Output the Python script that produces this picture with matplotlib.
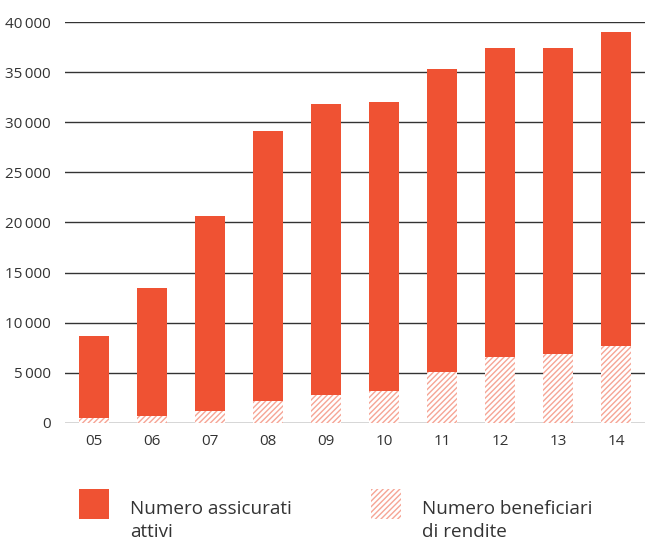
import matplotlib
matplotlib.use("Agg")
import matplotlib.pyplot as plt
from matplotlib.patches import Rectangle

plt.rcParams['font.family'] = ['Open Sans', 'DejaVu Sans']
plt.rcParams['hatch.linewidth'] = 1.0

years = ['05', '06', '07', '08', '09', '10', '11', '12', '13', '14']
totale = [8650, 13450, 20650, 29150, 31850, 32050, 35350, 37450, 37450, 39050]
beneficiari = [500, 700, 1200, 2200, 2750, 3200, 5100, 6600, 6900, 7700]
yticks = [0, 5000, 10000, 15000, 20000, 25000, 30000, 35000, 40000]

RED = '#ef5233'
HATCH = '#f6a595'
TXT = '#333333'

fig = plt.figure(figsize=(6.47, 5.44), dpi=100)
ax = fig.add_axes([65 / 647, 1 - 423 / 544, 580 / 647, 401 / 544])

x = list(range(len(years)))
assicurati = [t - b for t, b in zip(totale, beneficiari)]
ax.bar(x, beneficiari, width=0.52, color='white', edgecolor=HATCH, hatch='//////', linewidth=0, zorder=3)
ax.bar(x, assicurati, bottom=beneficiari, width=0.52, color=RED, linewidth=0, zorder=3)

ax.set_xlim(-0.5, 9.5)
ax.set_ylim(0, 40000)
ax.set_yticks(yticks)
ax.set_yticklabels([f"{v:,}".replace(',', '\u2009') for v in yticks], color=TXT, fontsize=11)
ax.set_xticks(x)
ax.set_xticklabels(years, color=TXT, fontsize=11)
ax.tick_params(length=0, pad=8)
ax.tick_params(axis='y', pad=10)
for s in ax.spines.values():
    s.set_visible(False)
ax.grid(axis='y', color='#333333', linewidth=1.0, zorder=0)
ax.set_axisbelow(True)

# legenda
fig.patches.append(Rectangle((79 / 647, 1 - 519 / 544), 30 / 647, 30 / 544,
                             transform=fig.transFigure, facecolor=RED, linewidth=0))
fig.patches.append(Rectangle((371 / 647, 1 - 519 / 544), 30 / 647, 30 / 544,
                             transform=fig.transFigure, facecolor='white', edgecolor=HATCH,
                             hatch='//////', linewidth=0))
fig.text(130 / 647, 1 - 500 / 544, "Numero assicurati\nattivi", fontsize=13.6, color=TXT,
         va='top', ha='left', linespacing=1.35)
fig.text(422 / 647, 1 - 500 / 544, "Numero beneficiari\ndi rendite", fontsize=13.6, color=TXT,
         va='top', ha='left', linespacing=1.35)

fig.savefig('out.png', dpi=100)
